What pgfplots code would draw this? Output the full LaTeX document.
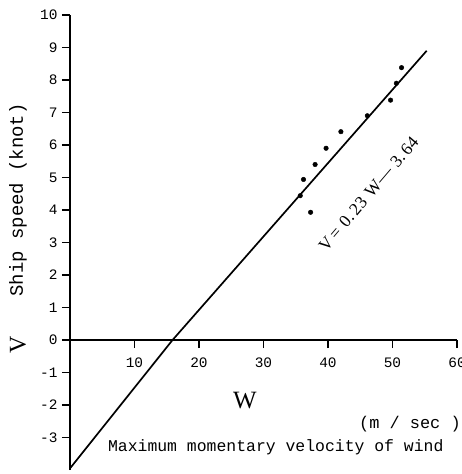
\documentclass[border=0pt]{standalone}
\usepackage{pgfplots}
\pgfplotsset{compat=1.18}
\usepackage{fontspec}
\setmainfont{Liberation Serif}
\setmonofont{Liberation Mono}
\begin{document}
\begin{tikzpicture}
\begin{axis}[
  name=ax,
  scale only axis, width=387bp, height=455bp,
  xmin=0,xmax=60,ymin=-4,ymax=10,
  axis x line=middle, axis y line=left,
  axis line style={-, line width=1.7pt},
  xtick={10,20,30,40,50,60},
  xticklabels={10,20,30,40,50,60},
  ytick={-3,-2,-1,0,1,2,3,4,5,6,7,8,9,10},
  yticklabels={-3,-2,-1,0,1,2,3,4,5,6,7,8,9,10},
  tick align=outside,
  major tick length=8bp,
  tick style={line width=1.4pt, black},
  ticklabel style={font=\ttfamily\fontsize{14.5}{14.5}\selectfont},
  xticklabel style={yshift=-6bp},
  yticklabel style={xshift=-1bp},
  clip=false,
]
\addplot[black, line width=1.7pt] coordinates {(0,-3.95) (15.9,0) (55.3,8.9)};
\addplot[only marks, mark=*, mark size=2.3bp, black] coordinates {
(51.4,8.38) (50.6,7.9) (49.7,7.38) (46.1,6.9) (42.0,6.41) (39.7,5.9)
(38.0,5.4) (36.2,4.94) (35.7,4.44) (37.3,3.93)};
\node[rotate=49.6, font=\fontsize{17.5}{17.5}\selectfont] at (axis cs:46.3,4.5) {V\,=\,\,0.\,23\,\,W---\,\,3.\,64};
\node[font=\fontsize{25}{25}\selectfont] at (axis cs:27.1,-1.85) {W};
\node[font=\ttfamily\fontsize{17}{17}\selectfont] at (axis cs:52.7,-2.6) {(m / sec )};
\node[font=\ttfamily\fontsize{16.5}{16.5}\selectfont] at (axis cs:31.9,-3.29) {Maximum momentary velocity of wind};
\node[rotate=90, font=\ttfamily\fontsize{19}{19}\selectfont] at (axis cs:-8.06,4.31) {Ship speed (knot)};
\node[rotate=90, font=\fontsize{24}{24}\selectfont] at (axis cs:-8.06,-0.15) {V};
\end{axis}
\pgfresetboundingbox
\path ([shift={(-70bp,-4bp)}]ax.south west) rectangle ([shift={(5bp,15bp)}]ax.north east);
\end{tikzpicture}
\end{document}
